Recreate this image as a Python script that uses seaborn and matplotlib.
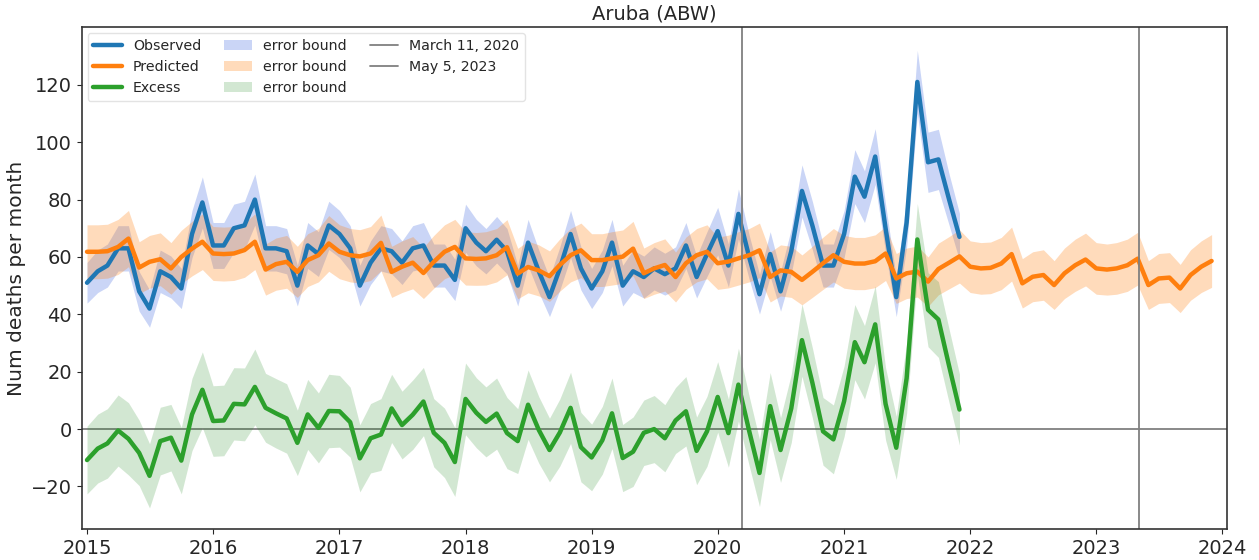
import numpy as np
import pandas as pd
import matplotlib
matplotlib.use("Agg")
import matplotlib.pyplot as plt
import matplotlib.dates as mdates
import seaborn as sns

# ---- data (monthly) ----
months = pd.date_range("2015-01-01", periods=108, freq="MS")

observed = [
    51, 55, 57, 63, 63, 48, 42, 55, 53, 49, 68, 79,
    64, 64, 70, 71, 80, 63, 63, 62, 50, 64, 61, 71,
    68, 63, 50, 58, 63, 62, 58, 63, 64, 57, 57, 52,
    70, 65, 62, 66, 62, 50, 65, 55, 46, 56, 68, 56,
    49, 55, 65, 50, 55, 53, 56, 54, 56, 64, 53, 61,
    69, 57, 75, 60, 47, 61, 48, 62, 83, 71, 57, 57,
    68, 88, 81, 95, 70, 46, 72, 121, 93, 94, 80, 67,
]
observed_err = [
    7.1, 7.4, 7.5, 7.9, 7.9, 6.9, 6.5, 7.4, 7.3, 7.0, 8.2, 8.9,
    8.0, 8.0, 8.4, 8.4, 8.9, 7.9, 7.9, 7.9, 7.1, 8.0, 7.8, 8.4,
    8.2, 7.9, 7.1, 7.6, 7.9, 7.9, 7.6, 7.9, 8.0, 7.5, 7.5, 7.2,
    8.4, 8.1, 7.9, 8.1, 7.9, 7.1, 8.1, 7.4, 6.8, 7.5, 8.2, 7.5,
    7.0, 7.4, 8.1, 7.1, 7.4, 7.3, 7.5, 7.3, 7.5, 8.0, 7.3, 7.8,
    8.3, 7.5, 8.7, 7.7, 6.9, 7.8, 6.9, 7.9, 9.1, 8.4, 7.5, 7.5,
    8.2, 9.4, 9.0, 9.7, 8.4, 6.8, 8.5, 11.0, 10.5, 10.5, 8.9, 8.2,
]

predicted = [
    61.8, 61.8, 62.0, 63.5, 66.4, 56.3, 58.3, 59.2, 56.0, 60.0, 62.9, 65.3,
    61.2, 61.0, 61.2, 62.4, 65.3, 55.6, 57.5, 58.3, 54.8, 58.9, 60.6, 64.7,
    61.8, 60.6, 60.2, 61.2, 64.9, 54.8, 56.6, 58.0, 54.4, 58.3, 61.8, 63.5,
    59.5, 59.3, 59.5, 60.6, 63.4, 54.2, 56.5, 55.3, 53.3, 57.2, 60.6, 62.3,
    58.9, 58.9, 59.5, 60.1, 62.9, 54.3, 56.0, 57.2, 53.0, 57.8, 60.6, 61.8,
    57.8, 58.4, 59.5, 60.6, 62.3, 53.0, 55.3, 54.8, 52.0, 54.8, 57.8, 60.6,
    58.3, 57.7, 57.7, 58.5, 61.2, 52.5, 54.3, 54.9, 51.4, 55.8, 58.0, 60.2,
    56.6, 56.0, 56.2, 57.7, 61.0, 50.8, 53.1, 53.7, 50.2, 54.3, 57.1, 59.1,
    56.0, 55.6, 56.0, 57.1, 59.4, 50.2, 52.5, 52.8, 49.0, 53.7, 56.6, 58.6,
]
predicted_err = [
    9.4, 9.4, 9.4, 9.6, 9.8, 9.0, 9.2, 9.2, 9.0, 9.3, 9.5, 9.7,
    9.4, 9.4, 9.4, 9.5, 9.7, 8.9, 9.1, 9.2, 8.9, 9.2, 9.3, 9.7,
    9.4, 9.3, 9.3, 9.4, 9.7, 8.9, 9.0, 9.1, 8.9, 9.2, 9.4, 9.6,
    9.3, 9.2, 9.3, 9.3, 9.6, 8.8, 9.0, 8.9, 8.8, 9.1, 9.3, 9.5,
    9.2, 9.2, 9.3, 9.3, 9.5, 8.8, 9.0, 9.1, 8.7, 9.1, 9.3, 9.4,
    9.1, 9.2, 9.3, 9.3, 9.5, 8.7, 8.9, 8.9, 8.7, 8.9, 9.1, 9.3,
    9.2, 9.1, 9.1, 9.2, 9.4, 8.7, 8.8, 8.9, 8.6, 9.0, 9.1, 9.3,
    9.0, 9.0, 9.0, 9.1, 9.4, 8.6, 8.7, 8.8, 8.5, 8.8, 9.1, 9.2,
    9.0, 8.9, 9.0, 9.1, 9.2, 8.5, 8.7, 8.7, 8.4, 8.8, 9.0, 9.2,
]

excess = [
    -10.8, -6.8, -5.0, -0.5, -3.4, -8.3, -16.3, -4.2, -3.0, -11.0, 5.1, 13.7,
    2.8, 3.0, 8.8, 8.6, 14.7, 7.4, 5.5, 3.7, -4.8, 5.1, 0.4, 6.3,
    6.2, 2.4, -10.2, -3.2, -1.9, 7.2, 1.4, 5.0, 9.6, -1.3, -4.8, -11.5,
    10.5, 5.7, 2.5, 5.4, -1.4, -4.2, 8.5, -0.3, -7.3, -1.2, 7.4, -6.3,
    -9.9, -3.9, 5.5, -10.1, -7.9, -1.3, 0.0, -3.2, 3.0, 6.2, -7.6, -0.8,
    11.2, -1.4, 15.5, -0.6, -15.3, 8.0, -7.3, 7.2, 31.0, 16.2, -0.8, -3.6,
    9.7, 30.3, 23.3, 36.5, 8.8, -6.5, 17.7, 66.1, 41.6, 38.2, 22.0, 6.8,
]
excess_err = [
    11.8, 12.0, 12.1, 12.4, 12.6, 11.4, 11.2, 11.8, 11.6, 11.6, 12.6, 13.2,
    12.3, 12.3, 12.6, 12.7, 13.2, 12.0, 12.1, 12.1, 11.4, 12.2, 12.2, 12.8,
    12.5, 12.2, 11.7, 12.1, 12.5, 11.9, 11.8, 12.1, 11.9, 11.9, 12.1, 12.0,
    12.5, 12.2, 12.2, 12.4, 12.4, 11.3, 12.1, 11.6, 11.1, 11.7, 12.4, 12.1,
    11.6, 11.8, 12.3, 11.7, 12.1, 11.4, 11.7, 11.7, 11.5, 12.1, 11.8, 12.2,
    12.3, 11.9, 12.7, 12.1, 11.7, 11.7, 11.3, 11.9, 12.6, 12.2, 11.8, 12.0,
    12.3, 13.1, 12.8, 13.4, 12.6, 11.0, 12.2, 12.5, 12.9, 13.2, 12.8, 12.4,
]

events = [pd.Timestamp("2020-03-11"), pd.Timestamp("2023-05-05")]
event_labels = ["March 11, 2020", "May 5, 2023"]

# ---- figure ----
sns.set_style("ticks")
plt.rcParams["font.family"] = ["DejaVu Sans"]

fig = plt.figure(figsize=(12.59, 5.6), dpi=100)
ax = fig.add_axes([0.065, 0.0545, 0.9097, 0.8965])

obs_x = months[:len(observed)]
obs = np.array(observed)
pred = np.array(predicted)
exc = np.array(excess)

ax.axhline(0, color="grey", linewidth=1.3, zorder=0)

sns.lineplot(x=obs_x, y=obs, ax=ax, color="tab:blue", linewidth=3.2)
sns.lineplot(x=months, y=pred, ax=ax, color="tab:orange", linewidth=3.2)
sns.lineplot(x=obs_x, y=exc, ax=ax, color="tab:green", linewidth=3.2)
line_handles = ax.lines[-3:]

b1 = ax.fill_between(obs_x, obs - np.array(observed_err), obs + np.array(observed_err),
                     color="royalblue", alpha=0.28, linewidth=0)
b2 = ax.fill_between(months, pred - np.array(predicted_err), pred + np.array(predicted_err),
                     color="tab:orange", alpha=0.28, linewidth=0)
b3 = ax.fill_between(obs_x, exc - np.array(excess_err), exc + np.array(excess_err),
                     color="forestgreen", alpha=0.2, linewidth=0)

v_handles = [ax.axvline(d, color="grey", linewidth=1.3) for d in events]

handles = list(line_handles) + [b1, b2, b3] + v_handles
labels = ["Observed", "Predicted", "Excess",
          "error bound", "error bound", "error bound"] + event_labels
leg = ax.legend(handles, labels, ncol=3, loc="upper left", fontsize=10.2,
                columnspacing=1.6, borderaxespad=0.4)
leg.get_frame().set_edgecolor("#dddddd")

ax.set_xlim(pd.Timestamp("2014-12-17"), pd.Timestamp("2024-01-15"))
ax.set_ylim(-35, 140)
ax.xaxis.set_major_locator(mdates.YearLocator())
ax.xaxis.set_major_formatter(mdates.DateFormatter("%Y"))
ax.set_yticks([-20, 0, 20, 40, 60, 80, 100, 120])
ax.tick_params(labelsize=14)
for s in ax.spines.values():
    s.set_color("#333333")
    s.set_linewidth(1.2)

ax.set_title("Aruba (ABW)", fontsize=14)
ax.set_ylabel("Num deaths per month", fontsize=14.5)
ax.set_xlabel("")

fig.savefig("out.png", dpi=100)
